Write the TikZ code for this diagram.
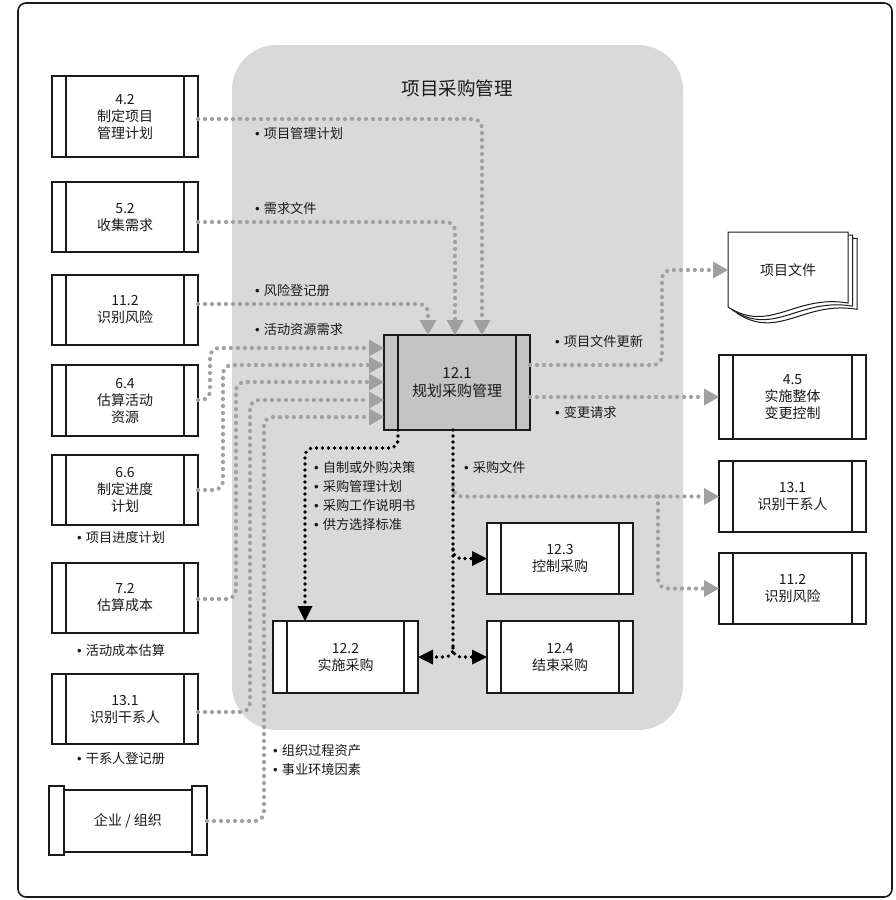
\documentclass[tikz,border=0pt]{standalone}
\usepackage{fontspec}
\setmainfont{Noto Sans CJK SC}
\newfontfamily\latinf{Liberation Sans}
\usetikzlibrary{arrows.meta}
\definecolor{bg}{HTML}{D9D9D9}
\definecolor{dotg}{HTML}{A0A0A0}
\definecolor{boxg}{HTML}{C4C4C4}
\definecolor{ink}{HTML}{1A1A1A}
\newcommand{\bul}{{\latinf •}\hspace{4pt}}
\begin{document}
\begin{tikzpicture}[x=1pt,y=-1pt,
  proc/.style={draw=ink, line width=1.1pt, fill=white, minimum width=146pt, minimum height=71pt,
    align=center, inner sep=0pt, outer sep=0pt, text=ink, font=\fontsize{14}{17}\selectfont,
    path picture={\draw[ink, line width=1.1pt]
      ([xshift=14pt]path picture bounding box.north west) -- ([xshift=14pt]path picture bounding box.south west)
      ([xshift=-14pt]path picture bounding box.north east) -- ([xshift=-14pt]path picture bounding box.south east);}},
  gline/.style={draw=dotg, line width=4.2pt, line cap=round, dash pattern=on 0pt off 7pt,
    rounded corners=9pt, -{Triangle[length=15pt,width=17pt,line width=0pt,fill=dotg,color=dotg]}},
  bline/.style={draw=black, line width=3.8pt, line cap=round, dash pattern=on 0pt off 6pt,
    rounded corners=8pt, -{Triangle[length=15pt,width=15pt,line width=0pt]}},
  lbl/.style={anchor=west, inner sep=0pt, text=ink, font=\fontsize{13.2}{18.7}\selectfont, align=left},
]
\useasboundingbox (0,0) rectangle (896,900);
\fill[white] (0,0) rectangle (896,900);
\draw[ink, line width=1.6pt, rounded corners=8pt] (18,3) rectangle (892,897);
\fill[bg, rounded corners=45pt] (232,45) rectangle (683,730);
\node[text=ink, font=\fontsize{18.5}{20}\selectfont] (title) at (457,88) {项目采购管理};

% document shape
\foreach \s in {9,4.5,0} {
  \draw[ink, line width=1pt, fill=white, shift={(\s,\s*0.7)}]
    (728,232) -- (848,232) -- (848,303) .. controls (795,294) and (770,334) .. (728,307) -- cycle;
}
\node[minimum width=120pt, minimum height=76pt, inner sep=0pt, outer sep=0pt, text=ink,
      font=\fontsize{14}{17}\selectfont] (doc) at (788,270) {项目文件};

% organisation scroll
\node[minimum width=158pt, minimum height=69pt, inner sep=0pt, outer sep=0pt] (org) at (128,820.5) {};
\draw[ink, line width=1.1pt, fill=white] ([xshift=15pt,yshift=-4pt]org.north west) rectangle ([xshift=-15pt,yshift=3pt]org.south east);
\draw[ink, line width=1.1pt, fill=white] (org.north west) rectangle ([xshift=15pt]org.south west);
\draw[ink, line width=1.1pt, fill=white] ([xshift=-15pt]org.north east) rectangle (org.south east);
\node[text=ink, font=\fontsize{14}{17}\selectfont] (orgt) at (org.center) {企业 / 组织};

% left boxes
\node[proc, minimum height=81pt] (b42) at (125,116.5) {4.2\\制定项目\\管理计划};
\node[proc, minimum height=70pt] (b52) at (125,217) {5.2\\收集需求};
\node[proc, minimum height=70pt] (b112) at (125,310) {11.2\\识别风险};
\node[proc, minimum height=71pt] (b64) at (125,400.5) {6.4\\估算活动\\资源};
\node[proc, minimum height=70pt] (b66) at (125,490) {6.6\\制定进度\\计划};
\node[proc, minimum height=70pt] (b72) at (125,598) {7.2\\估算成本};
\node[proc, minimum height=70pt] (b131) at (125,709) {13.1\\识别干系人};

% right boxes
\node[proc, minimum width=147pt, minimum height=84pt] (r45) at (792.5,397) {4.5\\实施整体\\变更控制};
\node[proc, minimum width=147pt, minimum height=71pt] (r131) at (792.5,496.5) {13.1\\识别干系人};
\node[proc, minimum width=147pt, minimum height=71pt] (r112) at (792.5,588.5) {11.2\\识别风险};

% centre boxes
\node[proc, fill=boxg, minimum height=95pt, font=\fontsize{15}{18}\selectfont] (p121) at (457,382.5) {12.1\\规划采购管理};
\node[proc, minimum width=145pt, minimum height=72pt] (p122) at (345.5,657) {12.2\\实施采购};
\node[proc, minimum height=71pt] (p123) at (560,558.5) {12.3\\控制采购};
\node[proc, minimum height=72pt] (p124) at (560,657) {12.4\\结束采购};

% gray inputs from above
\draw[gline] (b42.east |- 0,119) -| (482,0 |- p121.north);
\draw[gline] (b52.east |- 0,222) -| (455,0 |- p121.north);
\draw[gline] (b112.east |- 0,304) -| (428,0 |- p121.north);

% gray inputs from left
\draw[gline] (b64.east |- 0,400) -- (210,400) |- (p121.west |- 0,348);
\draw[gline] (b66.east |- 0,490) -- (223,490) |- (p121.west |- 0,365);
\draw[gline] (b72.east |- 0,599) -- (236,599) |- (p121.west |- 0,382);
\draw[gline] (b131.east |- 0,712) -- (250,712) |- (p121.west |- 0,400);
\draw[gline] (org.east |- 0,821) -- (264,821) |- (p121.west |- 0,417);

% gray outputs
\draw[gline] (p121.east |- 0,365) -- (662,365) |- (doc.west);
\draw[gline] (p121.east |- 0,397) -- (r45.west |- 0,397);
\coordinate (j1) at (453,486);
\draw[gline] (j1) |- (r131.west);
\coordinate (j2) at (658,496.5);
\draw[gline] (j2) |- (r112.west);

% black flows
\draw[bline] (p121.south -| 398,0) |- (305,448) -- (p122.north -| 305,0);
\draw[bline] (p121.south -| 453,0) |- (p122.east);
\coordinate (j3) at (453,648);
\draw[bline] (j3) |- (p124.west);
\coordinate (j4) at (453,549);
\draw[bline] (j4) |- (p123.west);

% labels
\node[lbl] (l1) at (255,133) {\bul 项目管理计划};
\node[lbl] (l2) at (255,208) {\bul 需求文件};
\node[lbl] (l3) at (255,290) {\bul 风险登记册};
\node[lbl] (l4) at (255,330) {\bul 活动资源需求};
\node[lbl] (l5) at (555,341) {\bul 项目文件更新};
\node[lbl] (l6) at (555,412) {\bul 变更请求};
\node[lbl] (l7) at (464,467) {\bul 采购文件};
\node[lbl] (l8) at (314,496) {\bul 自制或外购决策\\\bul 采购管理计划\\\bul 采购工作说明书\\\bul 供方选择标准};
\node[lbl] (l9) at (77,537) {\bul 项目进度计划};
\node[lbl] (l10) at (77,650) {\bul 活动成本估算};
\node[lbl] (l11) at (77,759) {\bul 干系人登记册};
\node[lbl] (l12) at (273,760) {\bul 组织过程资产\\\bul 事业环境因素};
\end{tikzpicture}
\end{document}
